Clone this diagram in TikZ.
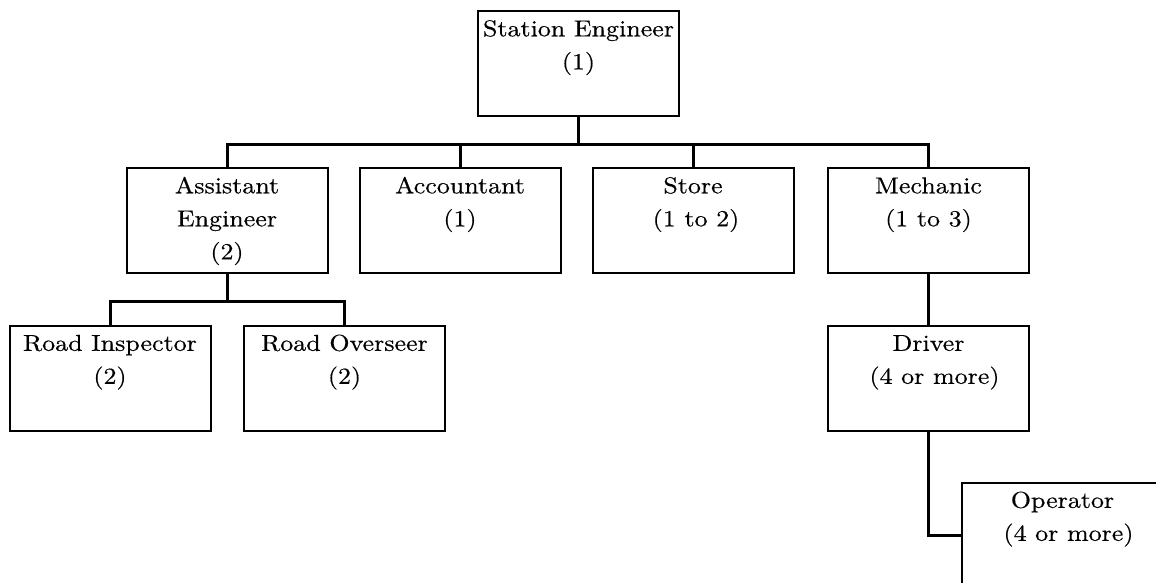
\documentclass[tikz,border=0pt]{standalone}
\usepackage{fontspec}
\setmainfont{lmroman10-regular.otf}[FakeStretch=1.13,FakeBold=0.4]
\begin{document}
\begin{tikzpicture}[x=1pt,y=-1pt,
  box/.style={draw=black,line width=2pt,minimum width=201pt,minimum height=105pt,inner sep=0pt},
  lbl/.style={anchor=north,align=center,inner sep=0pt,yshift=-3pt,
    font=\fontsize{23pt}{33pt}\selectfont},
  wire/.style={line width=3pt,line join=miter}]
\clip (0,0) rectangle (1156,582);
\fill[white] (0,0) rectangle (1156,582);

% bus lines
\coordinate (bus) at (0,144);
\coordinate (subbus) at (0,301);

% top
\node[box] (se) at (578.5,63.5) {};
\node[lbl] (se-t) at (se.north) {\strut Station Engineer\\(1)};

% second level
\node[box] (ae) at (227,220.5) {};
\node[lbl] (ae-t) at (ae.north) {\strut Assistant\\Engineer\\(2)};
\node[box] (acc) at (460,220.5) {};
\node[lbl] (acc-t) at (acc.north) {\strut Accountant\\(1)};
\node[box] (st) at (693,220.5) {};
\node[lbl] (st-t) at (st.north) {\strut Store\\\hspace*{6pt}(1 to 2)};
\node[box] (mech) at (928.5,220.5) {};
\node[lbl] (mech-t) at (mech.north) {\strut Mechanic\\(1 to 3)};

% third level
\node[box] (ri) at (110,378) {};
\node[lbl] (ri-t) at (ri.north) {\strut Road Inspector\\(2)};
\node[box] (ro) at (344.5,378) {};
\node[lbl] (ro-t) at (ro.north) {\strut Road Overseer\\(2)};
\node[box] (drv) at (928.5,378) {};
\node[lbl] (drv-t) at (drv.north) {\strut Driver\\\hspace*{12pt}(4 or more)};

% operator, running past the edge
\node[box] (op) at (1062.5,535) {};
\node[lbl] (op-t) at (op.north) {\strut Operator\\\hspace*{12pt}(4 or more)};

% connectors
\draw[wire] (se.south) -- (se.south |- bus);
\draw[wire] (ae.north) -- (ae.north |- bus) -- (mech.north |- bus) -- (mech.north);
\draw[wire] (acc.north) -- (acc.north |- bus);
\draw[wire] (st.north) -- (st.north |- bus);

\draw[wire] (ae.south) -- (ae.south |- subbus);
\draw[wire] (ri.north) -- (ri.north |- subbus) -- (ro.north |- subbus) -- (ro.north);

\draw[wire] (mech.south) -- (drv.north);
\draw[wire] (drv.south) |- (op.west);
\end{tikzpicture}
\end{document}
